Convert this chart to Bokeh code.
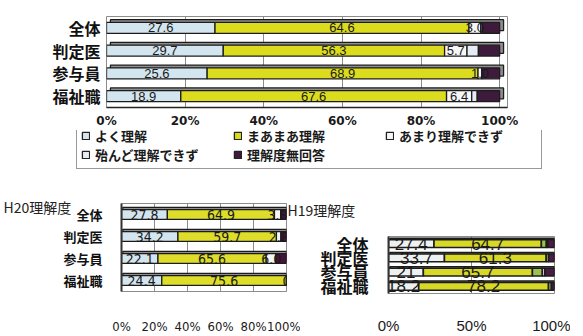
from bokeh.plotting import figure
from bokeh.models import (FactorRange, Range1d, ColumnDataSource, Legend, LegendItem,
                          Title, FixedTicker, PrintfTickFormatter)
from bokeh.layouts import column, row
from bokeh.transform import dodge
from bokeh.core.properties import value
from bokeh.embed import file_html
from bokeh.resources import INLINE

# ---------------- data ----------------
categories = ["全体", "判定医", "参与員", "福祉職"]
series_names = ["よく理解", "まあまあ理解", "あまり理解できず", "殆んど理解できず", "理解度無回答"]

top_well = [27.6, 29.7, 25.6, 18.9]
top_fair = [64.6, 56.3, 68.9, 67.6]
top_little = [3.0, 5.7, 1.0, 6.4]
top_hardly = [0.4, 2.9, 0.0, 1.4]
top_none = [4.4, 5.4, 4.5, 5.7]

h20_well = [27.8, 34.2, 22.1, 24.4]
h20_fair = [64.9, 59.7, 65.6, 75.6]
h20_little = [3.8, 2.8, 6.0, 0.0]
h20_hardly = [0.0, 0.0, 0.0, 0.0]
h20_none = [3.5, 3.3, 6.3, 0.0]

h19_well = [27.4, 33.7, 21.0, 18.2]
h19_fair = [64.7, 61.3, 65.7, 78.2]
h19_little = [3.0, 1.5, 6.0, 1.8]
h19_hardly = [0.9, 0.0, 1.5, 0.0]
h19_none = [4.0, 3.5, 5.8, 1.8]

top_ticks = [0, 20, 40, 60, 80, 100]
h20_ticks = [0, 20, 40, 60, 80, 100]
h19_ticks = [0, 50, 100]

h20_title = "H20理解度"
h19_title = "H19理解度"

# ---------------- styles ----------------
JP = "Noto Sans CJK JP"
LEGEND_FONT = "DejaVu Sans, Noto Sans CJK JP"
NARROW = "DejaVu Sans Condensed, Liberation Sans Narrow, Liberation Sans"
top_colors = ["#d3e5ef", "#dcdc1e", "#f6f6f6", "#e4edf3", "#3e1a3c"]
h20_colors = ["#d3e5ef", "#dede2a", "#f6f6f6", "#e4edf3", "#431539"]
h19_colors = ["#eef1f1", "#d8d826", "#9cc052", "#f0f0f0", "#4a1c46"]
OUT = "#1c1c1c"
GRID = "#8c8c8c"
KEYS = ["s%d" % i for i in range(5)]


def make_source(vals):
    data = {"cat": categories}
    for k, v in zip(KEYS, vals):
        data[k] = v
    data["zero"] = [0] * len(categories)
    data["total"] = [sum(c) for c in zip(*vals)]
    return ColumnDataSource(data)


def stacked(p, vals, colors, bar_h, dx, dy, n_labels, fmt, lfont, lsize, lw):
    src = make_source(vals)
    p.hbar(y=dodge("cat", dy, range=p.y_range), left=dodge("zero", dx), right=dodge("total", dx),
           height=bar_h, source=src, fill_color="#8e8e8e", line_color=OUT, line_width=lw)
    rs = p.hbar_stack(KEYS, y="cat", height=bar_h, fill_color=colors, line_color=OUT,
                      line_width=lw, source=src)
    xs, ys, ts = [], [], []
    for j, cat in enumerate(categories):
        acc = 0.0
        for i in range(len(vals)):
            v = vals[i][j]
            if i < n_labels:
                xs.append(acc + v / 2.0)
                ys.append(cat)
                ts.append(fmt(v))
            acc += v
    lsrc = ColumnDataSource(dict(x=xs, y=ys, t=ts))
    p.text(x="x", y="y", text="t", source=lsrc, text_align="center", text_baseline="middle",
           text_font=value(lfont), text_font_size=lsize, text_color="#1a1a1a")
    return rs


def base_fig(w, h, left, right, top, bottom, xmax):
    p = figure(width=w, height=h, y_range=FactorRange(factors=list(reversed(categories))),
               x_range=Range1d(0, xmax), output_backend="svg", toolbar_location=None,
               min_border_left=left, min_border_right=right, min_border_top=top,
               min_border_bottom=bottom)
    p.background_fill_color = "white"
    p.border_fill_color = "white"
    p.outline_line_color = GRID
    p.ygrid.visible = False
    p.xgrid.grid_line_color = GRID
    p.xaxis.minor_tick_line_color = None
    p.xaxis.major_tick_out = 0
    p.xaxis.major_tick_in = 0
    p.yaxis.major_tick_out = 0
    p.yaxis.major_tick_in = 0
    p.yaxis.axis_line_color = None
    p.xaxis.formatter = PrintfTickFormatter(format="%d%%")
    p.xaxis.major_label_text_color = "#1a1a1a"
    p.yaxis.major_label_text_color = "#111111"
    p.yaxis.major_label_text_font = JP
    p.yaxis.major_label_text_font_style = "bold"
    return p


top_vals = [top_well, top_fair, top_little, top_hardly, top_none]

# ---------------- top chart ----------------
p1 = base_fig(583, 130, 106, 76, 16, 23, 102)
p1.xaxis.ticker = FixedTicker(ticks=top_ticks)
p1.xgrid.ticker = FixedTicker(ticks=top_ticks)
p1.xaxis.major_label_text_font = "DejaVu Sans"
p1.xaxis.major_label_text_font_style = "bold"
p1.xaxis.major_label_text_font_size = "12px"
p1.xaxis.major_label_standoff = 6
p1.xaxis.axis_line_color = "#222222"
p1.xaxis.axis_line_width = 1.5
p1.yaxis.major_label_text_font_size = "16px"
p1.yaxis.major_label_standoff = 6
stacked(p1, top_vals, top_colors, 0.48, 1.0, 0.12, 3, lambda v: "%.1f" % v,
        "Liberation Sans", "13px", 1.3)

# ---------------- legend strip ----------------
p2 = figure(width=583, height=50, y_range=FactorRange(factors=list(reversed(categories))),
            x_range=Range1d(0, 100), output_backend="svg", toolbar_location=None,
            min_border=0, x_axis_location=None, y_axis_location=None)
p2.outline_line_color = None
p2.grid.visible = False
p2.background_fill_color = "white"
p2.border_fill_color = "white"
leg_rs = p2.hbar_stack(KEYS, y="cat", height=0.5, fill_color=top_colors, line_color="#222222",
                       line_width=1.3, source=make_source(top_vals), visible=False)
items = [LegendItem(label=name, renderers=[r]) for name, r in zip(series_names, leg_rs)]
leg = Legend(items=items, location=(76, 11), orientation="horizontal", ncols=3,
             label_text_font=LEGEND_FONT, label_text_font_size="13px",
             label_text_font_style="bold", label_text_color="#1a1a1a",
             glyph_width=9, glyph_height=9, label_standoff=5,
             label_width=138, label_height=12, padding=4, spacing=0, margin=0,
             border_line_color="#333333", border_line_width=1, background_fill_color="white")
p2.add_layout(leg)

# ---------------- H20 chart ----------------
p3 = base_fig(300, 156, 121, 14, 23, 43, 100)
p3.xaxis.ticker = FixedTicker(ticks=h20_ticks)
p3.xgrid.ticker = FixedTicker(ticks=h20_ticks)
p3.xaxis.axis_line_color = None
p3.yaxis.axis_line_color = "#333333"
p3.yaxis.axis_line_width = 2
p3.xaxis.major_label_text_font = NARROW
p3.xaxis.major_label_text_font_size = "13px"
p3.xaxis.major_label_standoff = 27
p3.yaxis.major_label_text_font_size = "13px"
p3.yaxis.major_label_standoff = 19
stacked(p3, [h20_well, h20_fair, h20_little, h20_hardly, h20_none], h20_colors,
        0.45, 0.8, 0.1, 3, lambda v: ("%.1f" % v) if v else "0", NARROW, "14px", 1.3)
p3.add_layout(Title(text=h20_title, align="left", offset=-118, standoff=-26,
                    text_font=JP, text_font_size="14px", text_font_style="normal",
                    text_color="#222222"), "above")

# ---------------- H19 chart ----------------
p4 = base_fig(296, 156, 101, 16, 53, 41, 100)
p4.border_fill_color = None
p4.margin = (0, 0, 0, -13)
p4.xaxis.ticker = FixedTicker(ticks=h19_ticks)
p4.xgrid.ticker = FixedTicker(ticks=h19_ticks)
p4.xaxis.axis_line_color = None
p4.yaxis.axis_line_color = "#333333"
p4.yaxis.axis_line_width = 2
p4.xaxis.major_label_text_font = "Liberation Sans"
p4.xaxis.major_label_text_font_size = "15px"
p4.xaxis.major_label_standoff = 23
p4.yaxis.major_label_text_font_size = "16px"
p4.yaxis.major_label_standoff = 20
stacked(p4, [h19_well, h19_fair, h19_little, h19_hardly, h19_none], h19_colors,
        0.55, 0.8, 0.1, 2, lambda v: "%g" % v, "Liberation Sans", "17px", 1.6)
p4.add_layout(Title(text=h19_title, align="left", offset=-101, standoff=34,
                    text_font=JP, text_font_size="14px", text_font_style="normal",
                    text_color="#222222"), "above")

root = column(p1, column(p2), row(column(p3), column(p4)))
open("out.html", "w").write(file_html(root, INLINE))
